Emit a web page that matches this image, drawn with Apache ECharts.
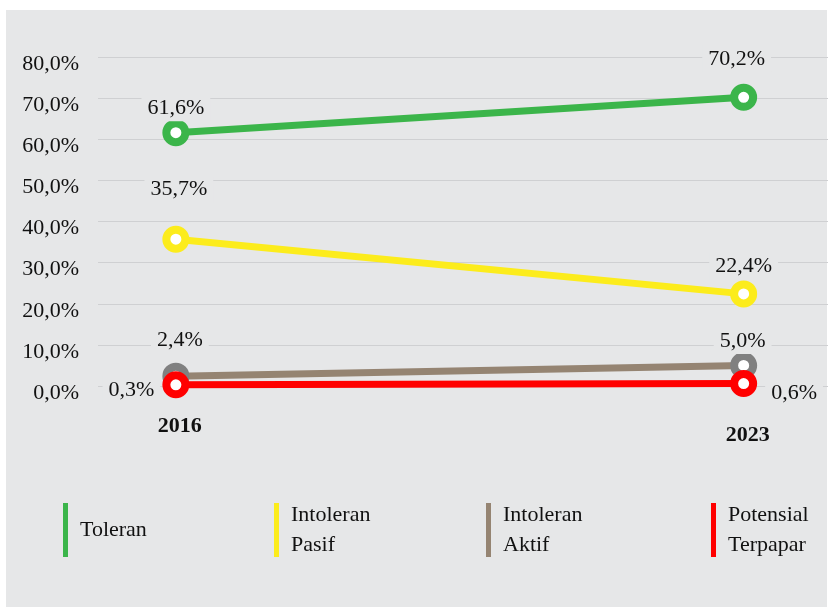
<!DOCTYPE html>
<html>
<head>
<meta charset="utf-8">
<script src="https://cdn.jsdelivr.net/npm/echarts@6/dist/echarts.min.js"></script>
<style>
  html, body { margin: 0; padding: 0; background: #ffffff; }
  #chart { width: 828px; height: 611px; }
</style>
</head>
<body>
<div id="chart"></div>
<script>
// data
var years = [2016, 2023];
var toleran = [61.6, 70.2];
var intoleranPasif = [35.7, 22.4];
var intoleranAktif = [2.4, 5.0];
var potensialTerpapar = [0.3, 0.6];
var yTicks = [0, 10, 20, 30, 40, 50, 60, 70, 80];

var BG = '#e6e7e8';
var FONT = '"Liberation Serif", "DejaVu Serif", serif';

function pct(v) {
  return v.toFixed(1).replace('.', ',') + '%';
}

// label placement per point (offsets only)
function pts(values, labels) {
  return values.map(function (v, i) {
    return { value: [years[i], v], label: labels[i] };
  });
}

function lbl(pos, dist, off) {
  return {
    show: true,
    position: pos,
    distance: dist,
    offset: off || [0, 0],
    formatter: function (p) { return pct(p.value[1]); },
    fontFamily: FONT,
    fontSize: 22,
    color: '#111',
    backgroundColor: BG,
    padding: [2, 6]
  };
}

function mkSeries(name, lineColor, markColor, values, labels) {
  return {
    name: name,
    type: 'line',
    data: pts(values, labels),
    symbol: 'circle',
    symbolSize: 19,
    lineStyle: { color: lineColor, width: 7 },
    itemStyle: { color: '#ffffff', borderColor: markColor, borderWidth: 8 },
    animation: false
  };
}

var chart = echarts.init(document.getElementById('chart'));

function legendItem(left, top, name, color, pad) {
  return {
    left: left,
    top: top,
    padding: 0,
    data: [{ name: name, itemStyle: { color: color, borderWidth: 0 } }],
    icon: 'rect',
    itemWidth: 5,
    itemHeight: 54,
    selectedMode: false,
    formatter: function (n) { return n.replace(' ', '\n'); },
    textStyle: {
      fontFamily: FONT,
      fontSize: 22,
      color: '#111',
      lineHeight: 30,
      padding: pad
    }
  };
}

chart.setOption({
  backgroundColor: '#ffffff',
  graphic: [{
    type: 'rect',
    z: -10,
    shape: { x: 6, y: 10, width: 821, height: 597 },
    style: { fill: BG }
  }],
  grid: { left: 98, right: 0, top: 57, bottom: 225 },
  legend: [
    legendItem(63, 503, 'Toleran', '#3bb54a', [0, 0, 0, 7]),
    legendItem(274, 497, 'Intoleran Pasif', '#fcec1c', [6, 0, 0, 7]),
    legendItem(486, 495, 'Intoleran Aktif', '#958472', [0, 0, 10, 7]),
    legendItem(711, 497, 'Potensial Terpapar', '#ff0000', [6, 0, 0, 7])
  ],
  xAxis: {
    type: 'value',
    min: 2015.04,
    max: 2024.04,
    axisLine: { show: false },
    axisTick: { show: false },
    splitLine: { show: false },
    axisLabel: {
      customValues: years,
      margin: 29,
      formatter: function (v) {
        return v === 2016 ? '{a|' + v + '}' : '{b|' + v + '}';
      },
      rich: {
        a: { fontFamily: FONT, fontSize: 22, fontWeight: 'bold', color: '#111', padding: [0, 0, 0, 8] },
        b: { fontFamily: FONT, fontSize: 22, fontWeight: 'bold', color: '#111', padding: [9, 0, 0, 8] }
      }
    }
  },
  yAxis: {
    type: 'value',
    min: yTicks[0],
    max: yTicks[yTicks.length - 1],
    interval: 10,
    axisLine: { show: false },
    axisTick: { show: false },
    splitLine: { lineStyle: { color: '#cfd0d2', width: 1 } },
    axisLabel: {
      margin: 19,
      formatter: function (v) { return '{v|' + pct(v) + '}'; },
      rich: {
        v: { fontFamily: FONT, fontSize: 22, color: '#111', padding: [14, 0, 0, 0] }
      }
    }
  },
  series: [
    mkSeries('Toleran', '#3bb54a', '#3bb54a', toleran,
      [lbl('top', -2), lbl('top', 12, [-7, 0])]),
    mkSeries('Intoleran Pasif', '#fcec1c', '#fcec1c', intoleranPasif,
      [lbl('top', 23, [3, 0]), lbl('top', 1)]),
    mkSeries('Intoleran Aktif', '#958472', '#808080', intoleranAktif,
      [lbl('top', 9, [4, 0]), lbl('top', -2, [-1, 0])]),
    mkSeries('Potensial Terpapar', '#ff0000', '#ff0000', potensialTerpapar,
      [lbl('left', 2, [0, 5]), lbl('right', 8, [0, 10])])
  ]
});
</script>
</body>
</html>
